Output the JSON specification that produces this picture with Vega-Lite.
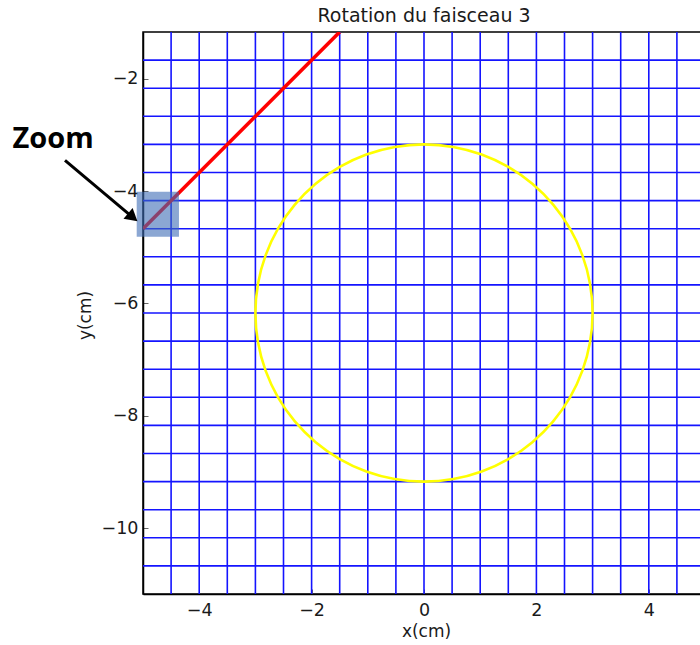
{
  "$schema": "https://vega.github.io/schema/vega-lite/v6.json",
  "width": 562,
  "height": 562,
  "autosize": {"type": "none"},
  "padding": {"left": 143, "top": 32, "right": 0, "bottom": 51},
  "background": "white",
  "title": {"text": "Rotation du faisceau 3", "fontSize": 19, "font": "DejaVu Sans", "fontWeight": "normal", "color": "#1a1a1a", "offset": 5},
  "datasets": {
    "vgrid": [{"x": -4.5}, {"x": -4}, {"x": -3.5}, {"x": -3}, {"x": -2.5}, {"x": -2}, {"x": -1.5}, {"x": -1}, {"x": -0.5}, {"x": 0}, {"x": 0.5}, {"x": 1}, {"x": 1.5}, {"x": 2}, {"x": 2.5}, {"x": 3}, {"x": 3.5}, {"x": 4}, {"x": 4.5}],
    "hgrid": [{"y": -1.67}, {"y": -2.17}, {"y": -2.67}, {"y": -3.17}, {"y": -3.67}, {"y": -4.17}, {"y": -4.67}, {"y": -5.17}, {"y": -5.67}, {"y": -6.17}, {"y": -6.67}, {"y": -7.17}, {"y": -7.67}, {"y": -8.17}, {"y": -8.67}, {"y": -9.17}, {"y": -9.67}, {"y": -10.17}, {"y": -10.67}],
    "circle": [
      {"i": 0, "x": 3, "y": -6.17}, {"i": 1, "x": 2.954, "y": -5.649}, {"i": 2, "x": 2.819, "y": -5.144}, {"i": 3, "x": 2.598, "y": -4.67},
      {"i": 4, "x": 2.298, "y": -4.242}, {"i": 5, "x": 1.928, "y": -3.872}, {"i": 6, "x": 1.5, "y": -3.572}, {"i": 7, "x": 1.026, "y": -3.351},
      {"i": 8, "x": 0.521, "y": -3.216}, {"i": 9, "x": 0, "y": -3.17}, {"i": 10, "x": -0.521, "y": -3.216}, {"i": 11, "x": -1.026, "y": -3.351},
      {"i": 12, "x": -1.5, "y": -3.572}, {"i": 13, "x": -1.928, "y": -3.872}, {"i": 14, "x": -2.298, "y": -4.242}, {"i": 15, "x": -2.598, "y": -4.67},
      {"i": 16, "x": -2.819, "y": -5.144}, {"i": 17, "x": -2.954, "y": -5.649}, {"i": 18, "x": -3, "y": -6.17}, {"i": 19, "x": -2.954, "y": -6.691},
      {"i": 20, "x": -2.819, "y": -7.196}, {"i": 21, "x": -2.598, "y": -7.67}, {"i": 22, "x": -2.298, "y": -8.098}, {"i": 23, "x": -1.928, "y": -8.468},
      {"i": 24, "x": -1.5, "y": -8.768}, {"i": 25, "x": -1.026, "y": -8.989}, {"i": 26, "x": -0.521, "y": -9.124}, {"i": 27, "x": 0, "y": -9.17},
      {"i": 28, "x": 0.521, "y": -9.124}, {"i": 29, "x": 1.026, "y": -8.989}, {"i": 30, "x": 1.5, "y": -8.768}, {"i": 31, "x": 1.928, "y": -8.468},
      {"i": 32, "x": 2.298, "y": -8.098}, {"i": 33, "x": 2.598, "y": -7.67}, {"i": 34, "x": 2.819, "y": -7.196}, {"i": 35, "x": 2.954, "y": -6.691}
    ],
    "beam": [{"i": 0, "x": -5, "y": -4.67}, {"i": 1, "x": -1.5, "y": -1.17}],
    "zoombox": [{"x": -5.112, "x2": -4.36, "y": -4.012, "y2": -4.813}],
    "arrow": [{"i": 0, "x": -6.388, "y": -3.453}, {"i": 1, "x": -5.224, "y": -4.434}],
    "arrowhead": [{"x": -5.21, "y": -4.445}],
    "label": [{"x": -6.6, "y": -3.234, "t": "Zoom"}]
  },
  "layer": [
    {
      "data": {"name": "vgrid"},
      "mark": {"type": "rule", "color": "#1414ff", "strokeWidth": 1.6},
      "encoding": {
        "x": {"field": "x", "type": "quantitative", "scale": {"domain": [-5, 5], "nice": false, "zero": false}, "title": "x(cm)",
              "axis": {"values": [-4, -2, 0, 2, 4], "format": "d", "labelPadding": 12, "titleX": 283, "titleY": 37, "titleBaseline": "middle", "titleAlign": "center"}}
      }
    },
    {
      "data": {"name": "hgrid"},
      "mark": {"type": "rule", "color": "#1414ff", "strokeWidth": 1.6},
      "encoding": {
        "y": {"field": "y", "type": "quantitative", "scale": {"domain": [-11.17, -1.17], "nice": false, "zero": false}, "title": "y(cm)",
              "axis": {"values": [-10, -8, -6, -4, -2], "format": "d", "labelPadding": 10, "titleX": -58, "titleY": 283, "titleBaseline": "middle", "titleAlign": "center", "titleAngle": 270}}
      }
    },
    {
      "data": {"name": "circle"},
      "mark": {"type": "line", "color": "#ffff00", "strokeWidth": 2.6, "interpolate": "cardinal-closed"},
      "encoding": {
        "x": {"field": "x", "type": "quantitative", "title": "x(cm)"},
        "y": {"field": "y", "type": "quantitative", "title": "y(cm)"},
        "order": {"field": "i", "type": "quantitative"}
      }
    },
    {
      "data": {"name": "beam"},
      "mark": {"type": "line", "color": "#ff0000", "strokeWidth": 3.6, "clip": true},
      "encoding": {
        "x": {"field": "x", "type": "quantitative", "title": "x(cm)"},
        "y": {"field": "y", "type": "quantitative", "title": "y(cm)"},
        "order": {"field": "i", "type": "quantitative"}
      }
    },
    {
      "data": {"name": "zoombox"},
      "mark": {"type": "rect", "fill": "#3e6cb5", "opacity": 0.6},
      "encoding": {
        "x": {"field": "x", "type": "quantitative", "title": "x(cm)"},
        "x2": {"field": "x2"},
        "y": {"field": "y", "type": "quantitative", "title": "y(cm)"},
        "y2": {"field": "y2"}
      }
    },
    {
      "data": {"name": "arrow"},
      "mark": {"type": "line", "color": "black", "strokeWidth": 3},
      "encoding": {
        "x": {"field": "x", "type": "quantitative", "title": "x(cm)"},
        "y": {"field": "y", "type": "quantitative", "title": "y(cm)"},
        "order": {"field": "i", "type": "quantitative"}
      }
    },
    {
      "data": {"name": "arrowhead"},
      "mark": {"type": "point", "shape": "triangle", "angle": 130, "filled": true, "color": "black", "opacity": 1, "size": 200},
      "encoding": {
        "x": {"field": "x", "type": "quantitative", "title": "x(cm)"},
        "y": {"field": "y", "type": "quantitative", "title": "y(cm)"}
      }
    },
    {
      "data": {"name": "label"},
      "mark": {"type": "text", "font": "Open Sans", "fontWeight": "bold", "fontSize": 29, "align": "center", "baseline": "alphabetic", "color": "black"},
      "encoding": {
        "x": {"field": "x", "type": "quantitative", "title": "x(cm)"},
        "y": {"field": "y", "type": "quantitative", "title": "y(cm)"},
        "text": {"field": "t"}
      }
    }
  ],
  "config": {
    "view": {"stroke": "black", "strokeWidth": 1.5},
    "font": "DejaVu Sans",
    "axis": {
      "grid": false,
      "domainColor": "black",
      "domainWidth": 1.5,
      "tickColor": "#666666",
      "tickSize": -5,
      "labelFont": "DejaVu Sans",
      "labelFontSize": 17.5,
      "labelColor": "#1a1a1a",
      "titleFont": "DejaVu Sans",
      "titleFontSize": 17,
      "titleFontWeight": "normal",
      "titleColor": "#1a1a1a"
    }
  }
}
